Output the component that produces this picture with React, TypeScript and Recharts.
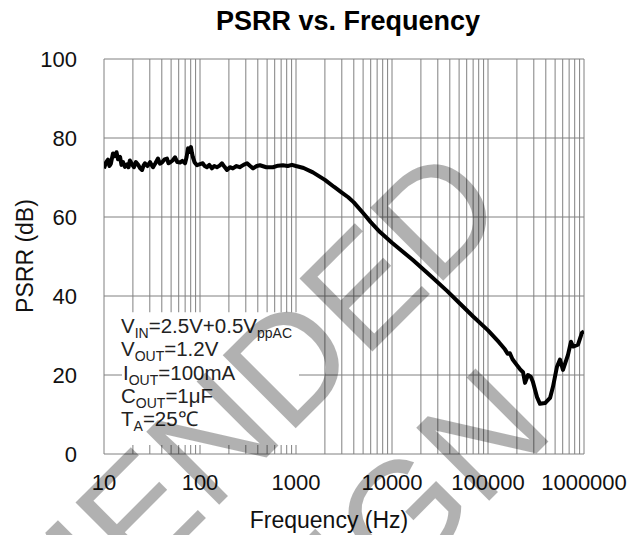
import { LineChart, Line, XAxis, YAxis, CartesianGrid, ReferenceArea } from "recharts";

const FREQ_HZ = [
  10, 10.5, 11, 11.4, 11.8, 12.4, 13, 13.5, 14, 14.7, 15.2, 15.8, 16.5, 17.4, 18, 18.6, 19.5, 20.5, 21.5,
  22.6, 23.7, 24.9, 25.8, 26.7, 28.3, 30.2, 31.3, 32.4, 34.3, 36.5, 38.2, 40.2, 42.8, 45.3, 47, 48.7, 51.8,
  55, 58, 61.9, 65.5, 69.9, 72.5, 75, 77.5, 80.5, 82.5, 84.4, 88, 93, 100, 107, 112, 118, 125, 133, 141,
  150, 160, 169, 180, 191, 205, 220, 240, 259, 284, 309, 333, 357, 390, 421, 490, 575, 650, 730, 820, 907,
  1000, 1200, 1500, 2000, 2500, 3000, 3500, 4000, 5000, 6000, 7500, 10000, 16500, 25000, 37400, 50000,
  70000, 100000, 130000, 150000, 160000, 169000, 180000, 200000, 215000, 231700, 243000, 261000, 280000,
  294000, 324000, 348000, 393000, 443000, 475000, 523000, 562000, 604000, 681000, 732000, 768000, 866000,
  953000, 1000000,
];
const PSRR_DB = [
  72.3, 73.8, 74.5, 72.9, 73.5, 76.1, 75.4, 76.4, 74.6, 75.2, 73.2, 73.9, 72.7, 73.3, 72.6, 74.3, 73.4, 72.6,
  73.9, 73.3, 72.4, 71.9, 73.0, 73.6, 72.9, 73.9, 73.2, 72.6, 73.6, 74.8, 73.5, 73.8, 74.6, 74.8, 73.6, 73.8,
  74.3, 75.1, 73.9, 73.8, 74.2, 73.6, 75.2, 77.4, 76.5, 77.7, 76.2, 75.1, 73.8, 73.1, 73.4, 73.6, 72.9, 72.6,
  73.2, 72.3, 72.9, 72.6, 73.0, 73.6, 72.7, 71.9, 72.6, 72.3, 72.9, 72.6, 73.2, 73.6, 72.9, 72.3, 72.9, 73.1,
  72.6, 72.6, 73.0, 73.1, 72.9, 73.2, 72.9, 72.4, 71.3, 69.4, 67.6, 66.2, 65.0, 63.7, 61.0, 58.7, 56.2, 53.5,
  49.1, 45.2, 41.3, 38.3, 34.8, 31.3, 28.3, 26.5, 25.4, 25.5, 24.0, 22.5, 21.5, 20.7, 18.0, 20.0, 19.5, 18.2,
  14.4, 12.7, 12.9, 14.2, 17.0, 22.1, 23.9, 21.3, 25.1, 28.4, 27.2, 27.7, 30.7, 31.0,
];

const X_TICKS = [10, 100, 1000, 10000, 100000, 1000000];
const Y_TICKS = [0, 20, 40, 60, 80, 100];
const GRID_FREQS = [
  10, 20, 30, 40, 50, 60, 70, 80, 90,
  100, 200, 300, 400, 500, 600, 700, 800, 900,
  1000, 2000, 3000, 4000, 5000, 6000, 7000, 8000, 9000,
  10000, 20000, 30000, 40000, 50000, 60000, 70000, 80000, 90000,
  100000, 200000, 300000, 400000, 500000, 600000, 700000, 800000, 900000,
  1000000,
];

// white box behind the test conditions
const NOTE_BOX = { f1: 15.4, f2: 1075, db1: 2.3, db2: 35.9 };

const FONT = "'Liberation Sans', Arial, sans-serif";

const data = FREQ_HZ.map((f, i) => ({ f, db: PSRR_DB[i] }));

function XTick({ x, y, payload }: any) {
  return (
    <text x={x} y={y + 36} textAnchor="middle" fontSize={22} fill="#111" fontFamily={FONT}>
      {payload.value}
    </text>
  );
}

function YTick({ x, y, payload }: any) {
  return (
    <text x={x - 27} y={y + 8} textAnchor="end" fontSize={22} fill="#111" fontFamily={FONT}>
      {payload.value}
    </text>
  );
}

function Sub({ children }: { children: string }) {
  return (
    <tspan fontSize={14} dy={5}>
      {children}
    </tspan>
  );
}

export default function App() {
  return (
    <div style={{ position: "relative", width: 639, height: 535, background: "#fff" }}>
      <style>{`body{margin:0}`}</style>
      <LineChart width={639} height={535} data={data} margin={{ top: 59, right: 55, bottom: 31, left: 44 }}>
        <CartesianGrid
          stroke="#808080"
          strokeWidth={1}
          verticalValues={GRID_FREQS}
          horizontalValues={Y_TICKS}
        />
        <XAxis
          dataKey="f"
          type="number"
          scale="log"
          domain={[10, 1000000]}
          ticks={X_TICKS}
          allowDataOverflow
          axisLine={false}
          tickLine={false}
          tickSize={0}
          tickMargin={0}
          height={50}
          tick={<XTick />}
          interval={0}
        />
        <YAxis
          type="number"
          domain={[0, 100]}
          ticks={Y_TICKS}
          axisLine={false}
          tickLine={false}
          tickSize={0}
          tickMargin={0}
          width={60}
          tick={<YTick />}
          interval={0}
        />
        <ReferenceArea
          x1={NOTE_BOX.f1}
          x2={NOTE_BOX.f2}
          y1={NOTE_BOX.db1}
          y2={NOTE_BOX.db2}
          fill="#fff"
          fillOpacity={1}
          stroke="none"
        />
        <Line
          dataKey="db"
          type="linear"
          stroke="#000"
          strokeWidth={4}
          strokeLinejoin="round"
          dot={false}
          activeDot={false}
          isAnimationActive={false}
        />
      </LineChart>

      <svg
        width={639}
        height={535}
        style={{ position: "absolute", left: 0, top: 0, pointerEvents: "none" }}
        fontFamily={FONT}
      >
        <text x={348} y={30} textAnchor="middle" fontSize={27} fontWeight="bold" fill="#000">
          PSRR vs. Frequency
        </text>
        <text x={329} y={528} textAnchor="middle" fontSize={23} fill="#111">
          Frequency (Hz)
        </text>
        <text
          x={25}
          y={256}
          transform="rotate(-90 25 256)"
          textAnchor="middle"
          dominantBaseline="central"
          fontSize={23}
          fill="#111"
        >
          PSRR (dB)
        </text>

        <g fontSize={20.5} fill="#222">
          <text x={121} y={333}>
            V<Sub>IN</Sub>
            <tspan dy={-5}>=2.5V+0.5V</tspan>
            <Sub>ppAC</Sub>
          </text>
          <text x={121} y={356}>
            V<Sub>OUT</Sub>
            <tspan dy={-5}>=1.2V</tspan>
          </text>
          <text x={123} y={379.5}>
            I<Sub>OUT</Sub>
            <tspan dy={-5}>=100mA</tspan>
          </text>
          <text x={121} y={402.5}>
            C<Sub>OUT</Sub>
            <tspan dy={-5}>=1μF</tspan>
          </text>
          <text x={121} y={425.5}>
            T<Sub>A</Sub>
            <tspan dy={-5}>=25℃</tspan>
          </text>
        </g>

        <g fontSize={150} fill="#000" opacity={0.3}>
          <text x={511} y={213} textAnchor="end" transform="rotate(-45 511 213)">
            NOT RECOMMENDED
          </text>
          <text x={557} y={433} textAnchor="end" transform="rotate(-45 557 433)">
            FOR NEW DESIGN
          </text>
        </g>
      </svg>
    </div>
  );
}
